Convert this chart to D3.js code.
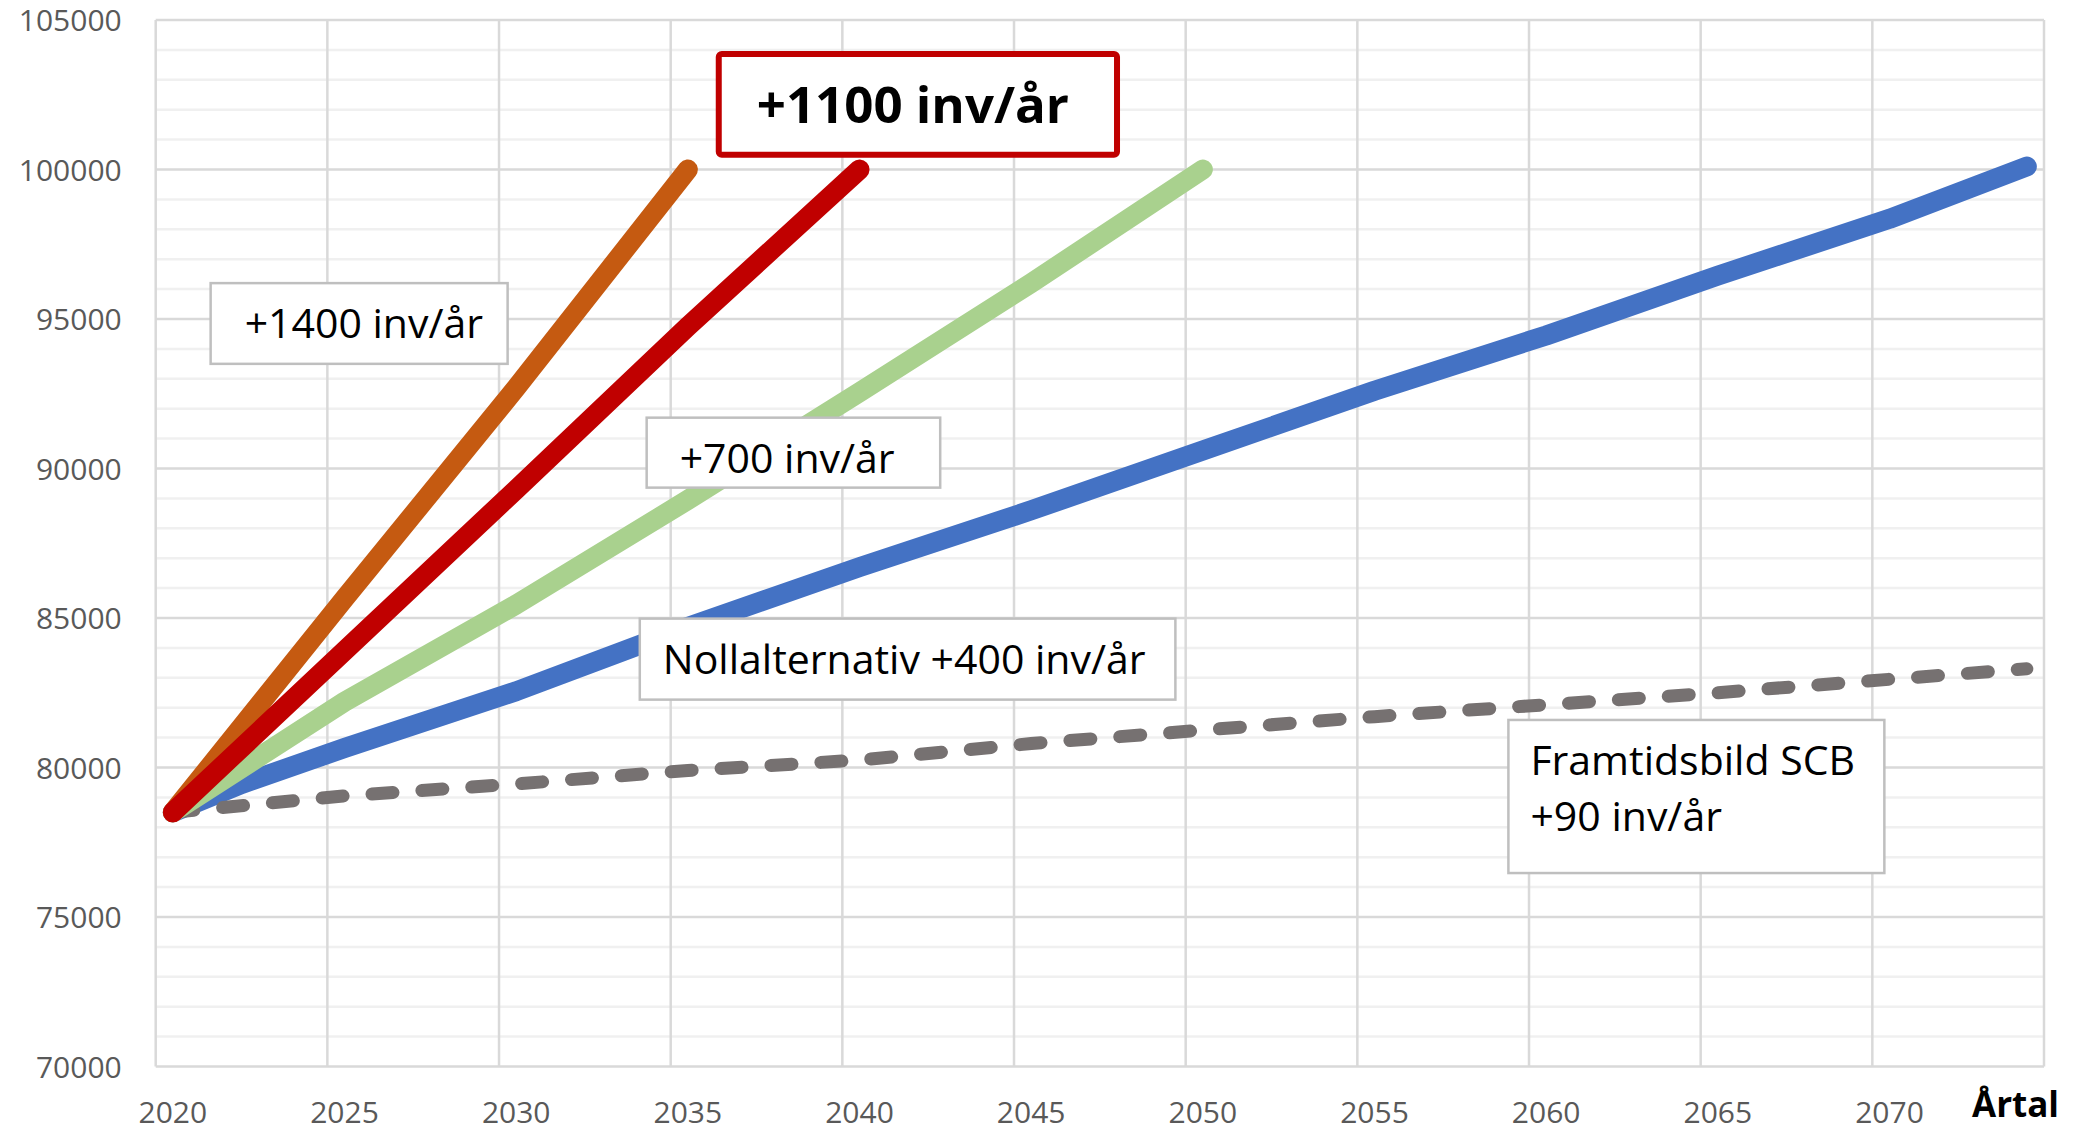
<!DOCTYPE html>
<html>
<head>
<meta charset="utf-8">
<script src="https://cdn.jsdelivr.net/npm/d3@7"></script>
<style>
  html, body { margin: 0; padding: 0; background: #fff; }
  svg { display: block; font-family: 'Open Sans', sans-serif; }
</style>
</head>
<body>
<div id="chart"></div>
<script>
// categories (one per year) and labelled ticks
const years = d3.range(2020, 2075);
const xTickYears = [2020, 2025, 2030, 2035, 2040, 2045, 2050, 2055, 2060, 2065, 2070];
const yTicks = [70000, 75000, 80000, 85000, 90000, 95000, 100000, 105000];

// series, [year, inhabitants]
const plus1400 = [[2020, 78500], [2025, 85650], [2030, 92700], [2035, 100000]];
const plus1100 = [[2020, 78500], [2025, 83900], [2030, 89300], [2035, 94750], [2040, 100000]];
const plus700 = [[2020, 78500], [2025, 82200], [2030, 85450], [2035, 88950], [2040, 92550], [2045, 96200], [2050, 100000]];
const plus400 = [[2020, 78500], [2022, 79450], [2025, 80650], [2030, 82550], [2035, 84700], [2040, 86700],
                 [2045, 88600], [2050, 90600], [2055, 92600], [2060, 94450], [2065, 96450], [2070, 98350], [2074, 100100]];
const plus90 = [[2020, 78500], [2025, 79050], [2030, 79450], [2035, 79900], [2040, 80250], [2045, 80800],
                [2050, 81250], [2055, 81700], [2060, 82100], [2065, 82500], [2070, 82950], [2074, 83300]];

// annotation boxes, placed in data units
const notes = [
    { lines: ['+1400 inv/år'], x: [2021.6, 2030.25], y: [96200, 93500], pad: 34, bold: false },
    { lines: ['+1100 inv/år'], x: [2036.4, 2048.0], y: [103860, 100490], pad: 38, bold: true },
    { lines: ['+700 inv/år'], x: [2034.3, 2042.85], y: [91700, 89360], pad: 33, bold: false },
    { lines: ['Nollalternativ +400 inv/år'], x: [2034.1, 2049.7], y: [84980, 82270], pad: 23, bold: false },
    { lines: ['Framtidsbild SCB', '+90 inv/år'], x: [2059.4, 2070.35], y: [81590, 76470], pad: 22, bold: false }
];

const width = 2083, height = 1131;
const margin = { top: 20, right: 39, bottom: 64.5, left: 155.7 };

const svg = d3.select('#chart').append('svg')
    .attr('width', width)
    .attr('height', height);

const x = d3.scaleBand()
    .domain(years)
    .range([margin.left, width - margin.right])
    .padding(0);

// continuous year position (category boundaries) for gridlines and boxes
const xPos = d3.scaleLinear()
    .domain([2020, 2075])
    .range([margin.left, width - margin.right]);

const y = d3.scaleLinear()
    .domain([70000, 105000])
    .range([height - margin.bottom, margin.top]);

const cx = yr => x(yr) + x.bandwidth() / 2;

// minor gridlines
svg.append('g')
    .selectAll('line')
    .data(d3.range(70000, 105001, 1000).filter(v => v % 5000 !== 0))
    .join('line')
        .attr('x1', margin.left)
        .attr('x2', width - margin.right)
        .attr('y1', d => y(d))
        .attr('y2', d => y(d))
        .style('stroke', '#f0f0f0')
        .style('stroke-width', 2.5);

// major gridlines
svg.append('g')
    .selectAll('line')
    .data(yTicks)
    .join('line')
        .attr('x1', margin.left)
        .attr('x2', width - margin.right)
        .attr('y1', d => y(d))
        .attr('y2', d => y(d))
        .style('stroke', '#d9d9d9')
        .style('stroke-width', 2.5);

svg.append('g')
    .selectAll('line')
    .data(d3.range(2020, 2076, 5))
    .join('line')
        .attr('x1', d => xPos(d))
        .attr('x2', d => xPos(d))
        .attr('y1', y(105000))
        .attr('y2', y(70000))
        .style('stroke', '#d9d9d9')
        .style('stroke-width', 2.5);

// axes
const yAxis = svg.append('g')
    .attr('transform', `translate(${margin.left},0)`)
    .call(d3.axisLeft(y).tickValues(yTicks).tickFormat(d3.format('d')).tickSize(0).tickPadding(34));
yAxis.select('.domain').remove();
yAxis.selectAll('text')
    .attr('dy', '0.36em')
    .style('font-family', "'Open Sans', sans-serif")
    .style('font-size', '30px')
    .style('fill', '#595959');

const xAxis = svg.append('g')
    .attr('transform', `translate(0,${y(70000)})`)
    .call(d3.axisBottom(x).tickValues(xTickYears).tickSize(0).tickPadding(35));
xAxis.select('.domain').remove();
xAxis.selectAll('text')
    .style('font-family', "'Open Sans', sans-serif")
    .style('font-size', '30px')
    .style('fill', '#595959');

svg.append('text')
    .attr('x', width - margin.right - 72)
    .attr('y', y(70000) + 50.5)
    .style('font-size', '35px')
    .style('font-weight', 'bold')
    .style('fill', '#000')
    .text('Årtal');

// lines
const line = d3.line()
    .x(d => cx(d[0]))
    .y(d => y(d[1]));

const series = [
    { data: plus400, color: '#4472c4', w: 20, dash: null },
    { data: plus90, color: '#767171', w: 13, dash: '21 29' },
    { data: plus700, color: '#a9d18e', w: 20, dash: null },
    { data: plus1400, color: '#c55a11', w: 20, dash: null },
    { data: plus1100, color: '#c00000', w: 20, dash: null }
];

svg.append('g')
    .selectAll('path')
    .data(series)
    .join('path')
        .attr('d', d => line(d.data))
        .style('fill', 'none')
        .style('stroke', d => d.color)
        .style('stroke-width', d => d.w)
        .style('stroke-dasharray', d => d.dash)
        .style('stroke-linecap', 'round')
        .style('stroke-linejoin', 'round');

// annotation boxes
const note = svg.append('g')
    .selectAll('g')
    .data(notes)
    .join('g')
        .attr('transform', d => `translate(${xPos(d.x[0])},${y(d.y[0])})`);

note.append('rect')
    .attr('width', d => xPos(d.x[1]) - xPos(d.x[0]))
    .attr('height', d => y(d.y[1]) - y(d.y[0]))
    .attr('rx', d => d.bold ? 3 : 0)
    .style('fill', '#fff')
    .style('stroke', d => d.bold ? '#c00000' : '#bfbfbf')
    .style('stroke-width', d => d.bold ? 6 : 2.5);

note.each(function(d) {
    const g = d3.select(this);
    d.lines.forEach((t, i) => {
        g.append('text')
            .attr('x', d.pad)
            .attr('y', d.bold ? 69 : 55 + i * 56)
            .style('font-size', d.bold ? '51px' : '41px')
            .style('font-weight', d.bold ? 'bold' : 'normal')
            .style('fill', '#000')
            .text(t);
    });
});
</script>
</body>
</html>
